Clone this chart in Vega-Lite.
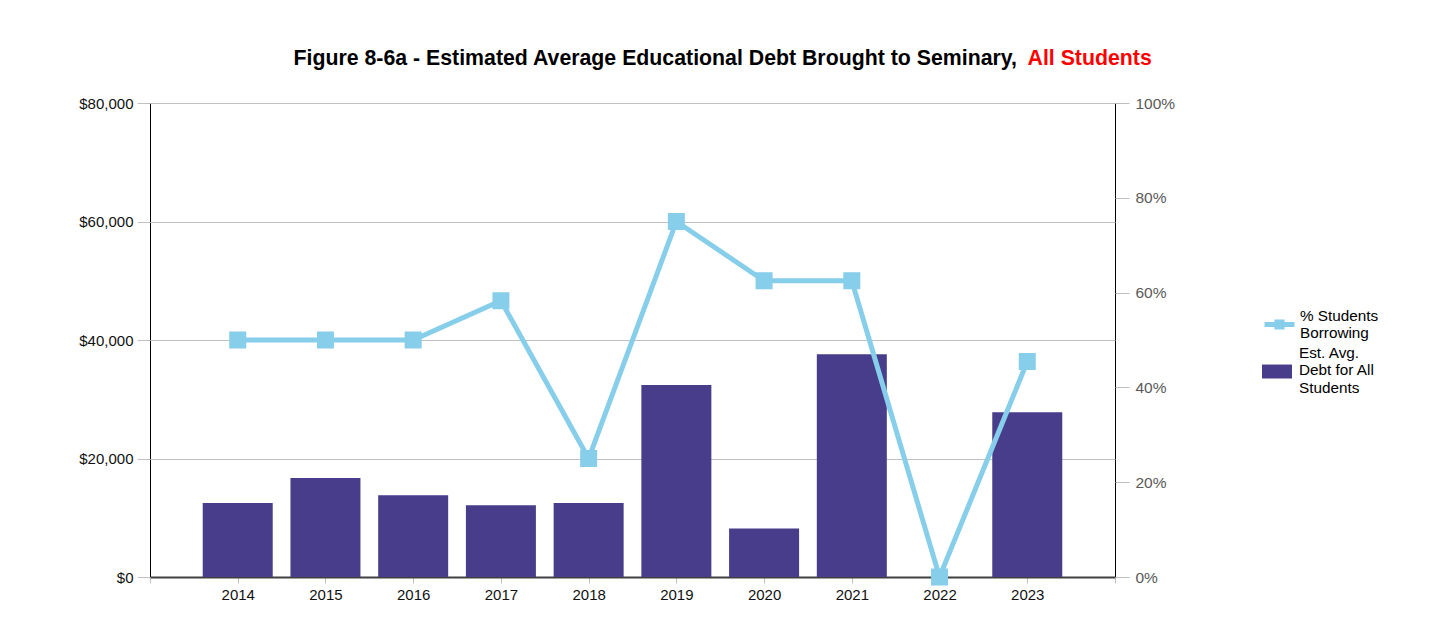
{
  "$schema": "https://vega.github.io/schema/vega-lite/v6.json",
  "autosize": {"type": "none"},
  "width": 965,
  "height": 474,
  "padding": {"left": 150, "top": 103, "right": 320, "bottom": 54},
  "background": "white",
  "config": {
    "font": "Liberation Sans",
    "view": {"stroke": "#000000", "strokeWidth": 1},
    "axis": {"labelFont": "Liberation Sans", "titleFont": "Liberation Sans"},
    "legend": {"labelFont": "Liberation Sans"}
  },
  "data": {
    "values": [
      {"year": 2014, "debt": 12500, "pct": 0.5},
      {"year": 2015, "debt": 16700, "pct": 0.5},
      {"year": 2016, "debt": 13800, "pct": 0.5},
      {"year": 2017, "debt": 12100, "pct": 0.583},
      {"year": 2018, "debt": 12500, "pct": 0.25},
      {"year": 2019, "debt": 32400, "pct": 0.75},
      {"year": 2020, "debt": 8200, "pct": 0.625},
      {"year": 2021, "debt": 37600, "pct": 0.625},
      {"year": 2022, "debt": 0, "pct": 0},
      {"year": 2023, "debt": 27800, "pct": 0.4545}
    ]
  },
  "encoding": {
    "x": {
      "field": "year",
      "type": "quantitative",
      "scale": {"domain": [2013, 2024], "nice": false, "zero": false, "padding": 0},
      "axis": {
        "title": null,
        "values": [2013, 2014, 2015, 2016, 2017, 2018, 2019, 2020, 2021, 2022, 2023, 2024],
        "format": "d",
        "labelExpr": "datum.value == 2013 || datum.value == 2024 ? '' : datum.label",
        "grid": false,
        "domain": true,
        "domainColor": "#404040",
        "domainWidth": 2,
        "tickColor": "#bfbfbf",
        "tickSize": 6,
        "labelPadding": 4,
        "labelFontSize": 15,
        "labelColor": "#111111",
        "labelFlush": false,
        "labelOverlap": false
      }
    }
  },
  "layer": [
    {
      "mark": {"type": "bar", "size": 70, "color": "#483D8B"},
      "encoding": {
        "y": {
          "field": "debt",
          "type": "quantitative",
          "scale": {"domain": [0, 80000], "nice": false},
          "axis": {
            "orient": "left",
            "values": [0, 20000, 40000, 60000, 80000],
            "format": "$,.0f",
            "grid": true,
            "gridColor": "#c0c0c0",
            "gridWidth": 1,
            "domain": false,
            "tickColor": "#bfbfbf",
            "tickSize": 13,
            "labelPadding": 4,
            "labelFontSize": 15,
            "labelColor": "#111111",
            "title": "Figure 8-6a - Estimated Average Educational Debt Brought to Seminary,",
            "titleAngle": 0,
            "titleAlign": "left",
            "titleBaseline": "alphabetic",
            "titleX": 143,
            "titleY": -39,
            "titleFontSize": 21.3,
            "titleFontWeight": "bold",
            "titleColor": "#000000"
          }
        },
        "fill": {
          "datum": "Est. Avg. Debt for All Students",
          "scale": {"range": ["#483D8B"]},
          "legend": {
            "orient": "none",
            "legendX": 1112,
            "legendY": 235,
            "title": null,
            "symbolType": "M-1,0.77H1V1.7H-1Z",
            "symbolSize": 900,
            "symbolStrokeWidth": 0,
            "labelFontSize": 15.3,
            "labelColor": "#000000",
            "labelOffset": 7,
            "labelLimit": 300,
            "labelExpr": "['Est. Avg.', 'Debt for All', 'Students']"
          }
        }
      }
    },
    {
      "mark": {
        "type": "line",
        "color": "#87CEEB",
        "strokeWidth": 5,
        "point": {"shape": "square", "size": 225, "filled": true, "color": "#87CEEB"}
      },
      "encoding": {
        "y": {
          "field": "pct",
          "type": "quantitative",
          "scale": {"domain": [0, 1], "nice": false},
          "axis": {
            "orient": "right",
            "values": [0, 0.2, 0.4, 0.6, 0.8, 1],
            "format": ".0%",
            "grid": false,
            "domain": false,
            "tickColor": "#bfbfbf",
            "tickSize": 14,
            "labelPadding": 6,
            "labelFontSize": 15.5,
            "labelColor": "#595959",
            "title": "All Students",
            "titleAngle": 0,
            "titleAlign": "left",
            "titleBaseline": "alphabetic",
            "titleX": -88,
            "titleY": -39,
            "titleFontSize": 21.3,
            "titleFontWeight": "bold",
            "titleColor": "#ff0000"
          }
        },
        "stroke": {
          "datum": "% Students Borrowing",
          "scale": {"range": ["#87CEEB"]},
          "legend": {
            "orient": "none",
            "legendX": 1112,
            "legendY": 195,
            "title": null,
            "symbolType": "M-1,0.6H1M-0.17,0.43H0.17V0.77H-0.17Z",
            "symbolSize": 900,
            "symbolStrokeWidth": 5,
            "symbolFillColor": "#87CEEB",
            "symbolStrokeColor": "#87CEEB",
            "labelFontSize": 15.3,
            "labelColor": "#000000",
            "labelOffset": 3,
            "labelLimit": 300,
            "labelExpr": "['% Students', 'Borrowing']"
          }
        }
      }
    }
  ],
  "resolve": {"scale": {"y": "independent"}}
}
